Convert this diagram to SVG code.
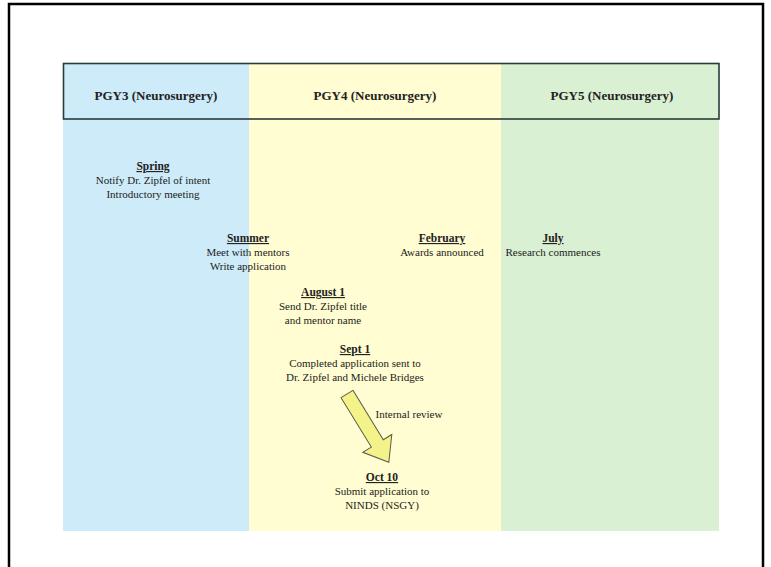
<svg xmlns="http://www.w3.org/2000/svg" width="771" height="567" viewBox="0 0 771 567">
<style>
text{font-family:"Liberation Serif","DejaVu Serif","Times New Roman",serif;fill:#222;text-anchor:middle}
.hd{font-size:13px;font-weight:bold}
.t{font-size:11px}
.h{font-size:11.5px;font-weight:bold;text-decoration:underline}
.col{stroke:none}
</style>
<rect x="0" y="0" width="771" height="567" fill="#fff"/>
<rect x="9" y="4" width="754" height="580" fill="none" stroke="#000" stroke-width="2.5"/>
<g id="columns">
<rect class="col" x="63" y="63" width="186" height="468" fill="#cdebf9"/>
<rect class="col" x="249" y="63" width="252" height="468" fill="#fffdd1"/>
<rect class="col" x="501" y="63" width="218" height="468" fill="#d9f0d3"/>
</g>
<g id="header" font-family="Liberation Serif, serif">
<rect x="63.5" y="63.5" width="655.5" height="55.5" fill="none" stroke="#2b3b3b" stroke-width="1.6"/>
<text class="hd" x="156" y="100">PGY3 (Neurosurgery)</text>
<text class="hd" x="375" y="100">PGY4 (Neurosurgery)</text>
<text class="hd" x="612" y="100">PGY5 (Neurosurgery)</text>
</g>
<g id="spring">
<text class="h" x="153" y="170">Spring</text>
<text class="t" x="153" y="184">Notify Dr. Zipfel of intent</text>
<text class="t" x="153" y="198">Introductory meeting</text>
</g>
<g id="summer">
<text class="h" x="248" y="242">Summer</text>
<text class="t" x="248" y="256">Meet with mentors</text>
<text class="t" x="248" y="270">Write application</text>
</g>
<g id="february">
<text class="h" x="442" y="242">February</text>
<text class="t" x="442" y="256">Awards announced</text>
</g>
<g id="july">
<text class="h" x="553" y="242">July</text>
<text class="t" x="553" y="256">Research commences</text>
</g>
<g id="august1">
<text class="h" x="323" y="296">August 1</text>
<text class="t" x="323" y="310">Send Dr. Zipfel title</text>
<text class="t" x="323" y="324">and mentor name</text>
</g>
<g id="sept1">
<text class="h" x="355" y="353">Sept 1</text>
<text class="t" x="355" y="367">Completed application sent to</text>
<text class="t" x="355" y="381">Dr. Zipfel and Michele Bridges</text>
</g>
<g id="oct10">
<text class="h" x="382" y="481">Oct 10</text>
<text class="t" x="382" y="495">Submit application to</text>
<text class="t" x="382" y="509">NINDS (NSGY)</text>
</g>
<g id="connectors">
<polygon transform="translate(347,394) rotate(58.5)" points="0,-7 58,-7 58,-17 80,0 58,17 58,7 0,7" fill="#f3f38a" stroke="#5a5a4a" stroke-width="1"/>
<text class="t" x="409" y="418">Internal review</text>
</g>
</svg>
